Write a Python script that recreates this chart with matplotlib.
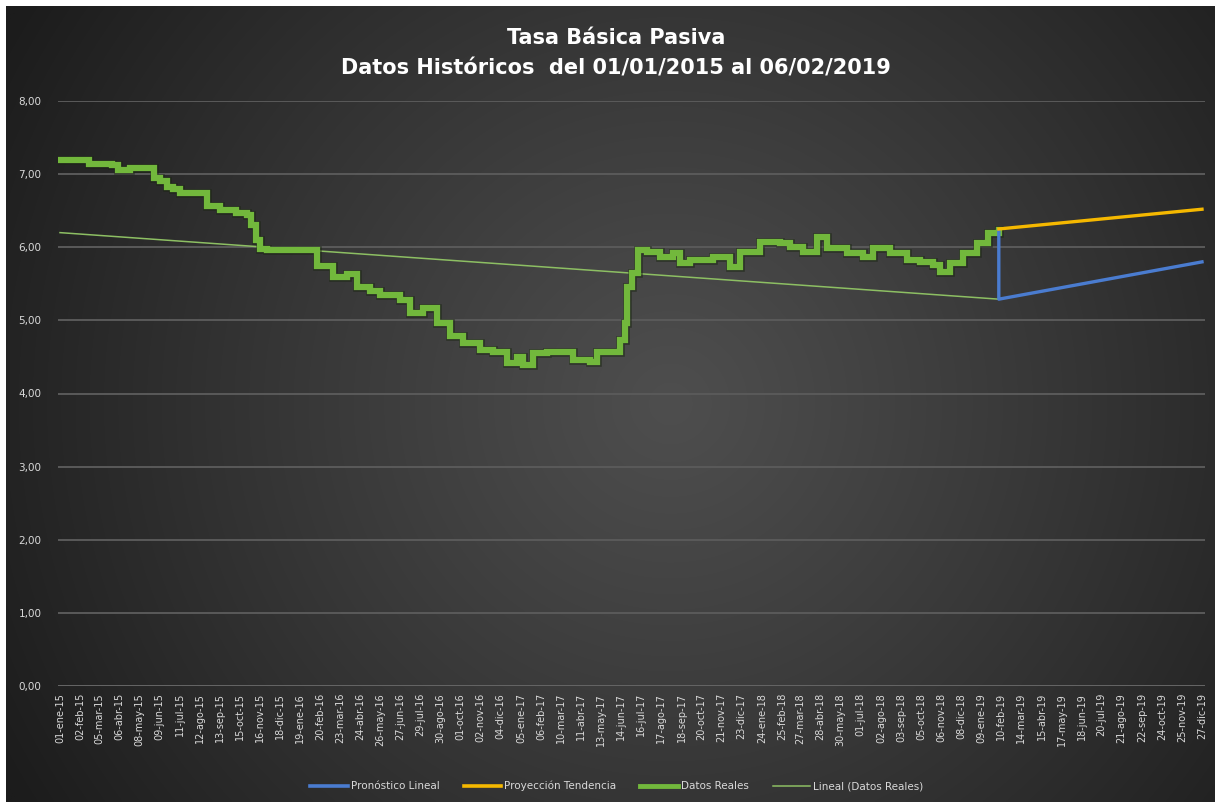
import numpy as np
import matplotlib
matplotlib.use('Agg')
import matplotlib.pyplot as plt
import matplotlib.dates as mdates
import matplotlib.patheffects as pe
from matplotlib.lines import Line2D
from datetime import datetime

title_line1 = "Tasa Básica Pasiva"
title_line2 = "Datos Históricos  del 01/01/2015 al 06/02/2019"

tick_labels = [
    "01-ene-15", "02-feb-15", "05-mar-15", "06-abr-15", "08-may-15", "09-jun-15",
    "11-jul-15", "12-ago-15", "13-sep-15", "15-oct-15", "16-nov-15", "18-dic-15",
    "19-ene-16", "20-feb-16", "23-mar-16", "24-abr-16", "26-may-16", "27-jun-16",
    "29-jul-16", "30-ago-16", "01-oct-16", "02-nov-16", "04-dic-16", "05-ene-17",
    "06-feb-17", "10-mar-17", "11-abr-17", "13-may-17", "14-jun-17", "16-jul-17",
    "17-ago-17", "18-sep-17", "20-oct-17", "21-nov-17", "23-dic-17", "24-ene-18",
    "25-feb-18", "27-mar-18", "28-abr-18", "30-may-18", "01-jul-18", "02-ago-18",
    "03-sep-18", "05-oct-18", "06-nov-18", "08-dic-18", "09-ene-19", "10-feb-19",
    "14-mar-19", "15-abr-19", "17-may-19", "18-jun-19", "20-jul-19", "21-ago-19",
    "22-sep-19", "24-oct-19", "25-nov-19", "27-dic-19",
]
month_map = {"ene": 1, "feb": 2, "mar": 3, "abr": 4, "may": 5, "jun": 6,
             "jul": 7, "ago": 8, "sep": 9, "oct": 10, "nov": 11, "dic": 12}

y_ticks = [0, 1, 2, 3, 4, 5, 6, 7, 8]

real_dates = [
    "2015-01-01", "2015-02-15", "2015-02-16", "2015-03-25", "2015-04-03", "2015-04-19",
    "2015-04-23", "2015-05-09", "2015-05-31", "2015-06-10", "2015-06-20", "2015-06-30",
    "2015-07-11", "2015-08-12", "2015-08-23", "2015-09-13", "2015-10-08", "2015-10-26",
    "2015-11-02", "2015-11-09", "2015-11-16", "2015-11-27", "2016-02-08", "2016-02-15",
    "2016-03-11", "2016-04-03", "2016-04-19", "2016-05-09", "2016-05-25", "2016-06-26",
    "2016-07-12", "2016-08-02", "2016-08-24", "2016-09-14", "2016-10-05", "2016-11-01",
    "2016-11-21", "2016-12-14", "2016-12-30", "2017-01-08", "2017-01-24", "2017-02-16",
    "2017-03-08", "2017-03-29", "2017-04-25", "2017-05-06", "2017-06-01", "2017-06-12",
    "2017-06-20", "2017-06-23", "2017-07-01", "2017-07-11", "2017-07-25", "2017-08-15",
    "2017-09-04", "2017-09-16", "2017-10-02", "2017-10-18", "2017-11-07", "2017-12-04",
    "2017-12-20", "2018-01-21", "2018-02-22", "2018-03-10", "2018-03-31", "2018-04-22",
    "2018-05-08", "2018-06-09", "2018-07-04", "2018-07-20", "2018-08-17", "2018-09-13",
    "2018-10-03", "2018-10-24", "2018-11-04", "2018-11-20", "2018-12-11", "2019-01-02",
    "2019-01-20", "2019-02-06",
]
real_values = [
    7.20, 7.20, 7.14, 7.12, 7.06, 7.06,
    7.09, 7.09, 6.95, 6.90, 6.82, 6.79,
    6.74, 6.74, 6.56, 6.51, 6.47, 6.44,
    6.30, 6.10, 5.98, 5.96, 5.96, 5.74,
    5.60, 5.64, 5.46, 5.40, 5.35, 5.28,
    5.10, 5.17, 4.96, 4.78, 4.69, 4.60,
    4.57, 4.42, 4.50, 4.39, 4.55, 4.57,
    4.57, 4.46, 4.43, 4.57, 4.57, 4.73,
    4.96, 5.46, 5.65, 5.96, 5.94, 5.87,
    5.92, 5.79, 5.83, 5.83, 5.87, 5.73,
    5.94, 6.07, 6.06, 6.01, 5.94, 6.14,
    5.99, 5.92, 5.87, 5.99, 5.92, 5.83,
    5.80, 5.76, 5.66, 5.79, 5.92, 6.06,
    6.20, 6.24,
]

trend_dates = ["2015-01-01", "2019-02-06"]
trend_values = [6.20, 5.29]

forecast_dates = ["2019-02-06", "2019-02-06", "2019-12-27"]
forecast_values = [6.24, 5.29, 5.80]

projection_dates = ["2019-02-06", "2019-12-27"]
projection_values = [6.25, 6.52]

legend_labels = ["Pronóstico Lineal", "Proyección Tendencia", "Datos Reales", "Lineal (Datos Reales)"]


def to_dt(s):
    return datetime.strptime(s, "%Y-%m-%d")


def label_to_dt(lbl):
    d, m, y = lbl.split("-")
    return datetime(2000 + int(y), month_map[m], int(d))


W, H = 1215, 802
fig = plt.figure(figsize=(W / 100, H / 100), dpi=100)
fig.patch.set_facecolor("white")

# background gradient
bg = fig.add_axes([6 / W, 0, 1 - 6 / W, (H - 6) / H])
ny, nx = 300, 450
yy, xx = np.mgrid[0:1:ny * 1j, 0:1:nx * 1j]
r = np.sqrt(((xx - 0.55) * 1.5) ** 2 + (yy - 0.5) ** 2)
t = np.clip(r / 0.95, 0, 1) ** 1.1
c_center = np.array([0x4e, 0x4e, 0x4e]) / 255
c_edge = np.array([0x1c, 0x1c, 0x1c]) / 255
img = c_center[None, None, :] * (1 - t[..., None]) + c_edge[None, None, :] * t[..., None]
bg.imshow(img, aspect="auto", extent=[0, 1, 0, 1], interpolation="bilinear")
bg.set_axis_off()

ax = fig.add_axes([58 / W, (H - 686) / H, (1205 - 58) / W, (686 - 101) / H])
ax.set_facecolor("none")
for s in ax.spines.values():
    s.set_visible(False)

x0 = mdates.date2num(datetime(2015, 1, 1))
x1 = mdates.date2num(datetime(2019, 12, 27))
ppd = (1202 - 60) / (x1 - x0)
ax.set_xlim(x0 - 2 / ppd, x1 + 3 / ppd)
ax.set_ylim(0, 8)

for yv in y_ticks:
    ax.axhline(yv, color="#5a5a5a" if yv else "#666666", lw=1.4, zorder=1)

ax.set_yticks(y_ticks)
ax.set_yticklabels([f"{v:.2f}".replace(".", ",") for v in y_ticks])
tick_pos = [mdates.date2num(label_to_dt(l)) for l in tick_labels]
ax.set_xticks(tick_pos)
ax.set_xticklabels(tick_labels, rotation=90)
ax.tick_params(axis="both", length=0, colors="#d9d9d9", labelsize=7)
ax.tick_params(axis="y", pad=12, labelsize=7.5)
ax.tick_params(axis="x", pad=5)

green = "#72B83C"
blue = "#4A7CD0"
orange = "#F5B800"
trend_col = "#8DBF63"

rd = [mdates.date2num(to_dt(d)) for d in real_dates]
ax.plot(rd, real_values, color=green, lw=4.5, drawstyle="steps-post", zorder=4,
        solid_joinstyle="miter",
        path_effects=[pe.Stroke(linewidth=6.2, foreground="#1a2412", alpha=0.55), pe.Normal()])
ax.plot([mdates.date2num(to_dt(d)) for d in trend_dates], trend_values,
        color=trend_col, lw=1.1, zorder=3)
ax.plot([mdates.date2num(to_dt(d)) for d in forecast_dates], forecast_values,
        color=blue, lw=2.4, zorder=5)
ax.plot([mdates.date2num(to_dt(d)) for d in projection_dates], projection_values,
        color=orange, lw=2.4, zorder=5)

fig.text(616 / W, 1 - 38 / H, title_line1, ha="center", va="center",
         color="white", fontsize=15, fontweight="bold")
fig.text(616 / W, 1 - 69 / H, title_line2, ha="center", va="center",
         color="white", fontsize=15, fontweight="bold")

handles = [
    Line2D([], [], color=blue, lw=2.6),
    Line2D([], [], color=orange, lw=2.6),
    Line2D([], [], color=green, lw=3.5),
    Line2D([], [], color=trend_col, lw=1.1),
]
leg = fig.legend(handles, legend_labels, loc="center", bbox_to_anchor=(617 / W, 1 - 786 / H),
                 ncol=4, frameon=False, fontsize=7.5, handlelength=3.6, handletextpad=0.3,
                 columnspacing=2.3, labelcolor="#d9d9d9")

fig.savefig("out.png", dpi=100, facecolor=fig.get_facecolor())
